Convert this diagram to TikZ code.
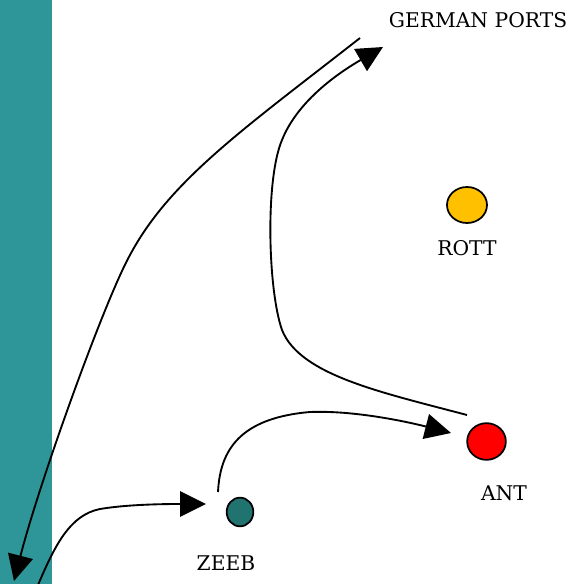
\documentclass[tikz,border=0pt]{standalone}
\usepackage{fontspec}
\setmainfont{DejaVu Serif}
\usetikzlibrary{shapes.geometric,arrows.meta}
\definecolor{stripteal}{HTML}{2E9698}
\definecolor{zeebteal}{HTML}{21736F}
\definecolor{rottgold}{HTML}{FFC000}
\begin{document}
\begin{tikzpicture}[x=0.75pt,y=-0.75pt,
    port/.style={ellipse,draw,line width=1.3pt,inner sep=0pt},
    lbl/.style={font=\fontsize{15.2}{17}\selectfont,inner sep=0pt},
    route/.style={line width=1.4pt,-{Triangle[length=19.5pt,width=19pt]}}]
        \useasboundingbox (0,0) rectangle (569,584);
        \fill[stripteal] (0,0) rectangle (52,584);
        % places
        \node[lbl] (ports) at (478, 20) {GERMAN PORTS};
        \node[port,fill=rottgold,minimum width=30pt,minimum height=27pt] (rott) at (467, 205) {};
        \node[lbl] (rottlbl) at (467, 248) {ROTT};
        \node[port,fill=red,minimum width=29pt,minimum height=27.5pt] (ant) at (486.5, 441.5) {};
        \node[lbl] (antlbl) at (504, 493) {ANT};
        \node[port,fill=zeebteal,minimum width=20pt,minimum height=21.5pt] (zeeb) at (240, 512) {};
        \node[lbl] (zeeblbl) at (226, 563) {ZEEB};
        % route ends
        \coordinate (portsout) at (360, 38);
        \coordinate (portsin) at (383, 47);
        \coordinate (antout) at (467, 415);
        \coordinate (antin) at (451, 433);
        \coordinate (zeebout) at (218, 492);
        \coordinate (zeebin) at (206, 504);
        \coordinate (coastin) at (14, 581);
        \coordinate (coastout) at (38, 585);
        % routes
        \draw[route] (portsout) .. controls (245, 128) and (170, 180) .. (130, 255)
            .. controls (105, 300) and (40, 480) .. (coastin);
        \draw[route] (antout) .. controls (380, 392) and (300, 375) .. (282, 330)
            .. controls (268, 290) and (265, 180) .. (282, 140)
            .. controls (298, 100) and (340, 72) .. (portsin);
        \draw[route] (zeebout) .. controls (220, 450) and (240, 418) .. (310, 412)
            .. controls (360, 410) and (420, 425) .. (antin);
        \draw[route] (coastout) .. controls (55, 545) and (70, 515) .. (100, 509)
            .. controls (130, 504) and (170, 504) .. (zeebin);
    \end{tikzpicture}
\end{document}
